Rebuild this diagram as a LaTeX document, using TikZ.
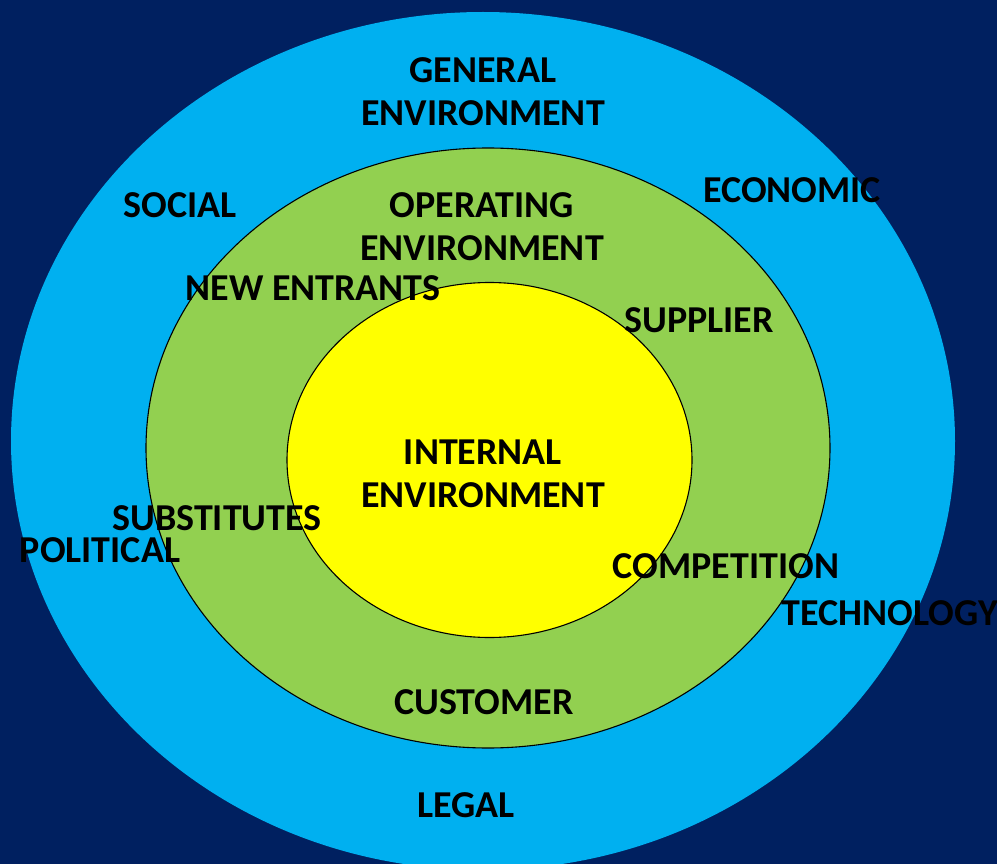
\documentclass[tikz,border=0pt]{standalone}
\usepackage{fontspec}
\setmainfont{Carlito}

\definecolor{navybg}{HTML}{002060}
\definecolor{genblue}{HTML}{00B0F0}
\definecolor{opgreen}{HTML}{92D050}
\definecolor{intyellow}{HTML}{FFFF00}

\begin{document}
\begin{tikzpicture}[x=1pt,y=-1pt,
	ringtext/.style={font=\bfseries\fontsize{38}{43}\selectfont, text=black, inner sep=0pt, align=center},
	ring/.style={draw=black, line width=1.1pt}]


\fill[navybg] (0,0) rectangle (997,864);
\useasboundingbox (0,0) rectangle (997,864);

\fill[genblue] (483,441) ellipse [x radius=472, y radius=429];   %general environment
\fill[opgreen, ring] (488,448) ellipse [x radius=342, y radius=300];   %operating environment
\fill[intyellow, ring] (489.5,460) ellipse [x radius=202.5, y radius=177.5];   %internal environment


%ring titles
\node[ringtext] (general) at (483,91.5) {GENERAL\\ENVIRONMENT};
\node[ringtext] (operating) at (482,226.5) {OPERATING\\ENVIRONMENT};
\node[ringtext] (internal) at (483,473.5) {INTERNAL\\ENVIRONMENT};

%general environment factors
\node[ringtext] (social) at (180,205) {SOCIAL};
\node[ringtext] (economic) at (792,190) {ECONOMIC};
\node[ringtext] (political) at (100,550) {POLITICAL};
\node[ringtext] (technology) at (890,613) {TECHNOLOGY};
\node[ringtext] (legal) at (466,805) {LEGAL};

%operating environment factors
\node[ringtext] (entrants) at (313,288) {NEW ENTRANTS};
\node[ringtext] (supplier) at (699,320) {SUPPLIER};
\node[ringtext] (substitutes) at (217,518) {SUBSTITUTES};
\node[ringtext] (competition) at (726,566) {COMPETITION};
\node[ringtext] (customer) at (484,702) {CUSTOMER};

\end{tikzpicture}
\end{document}
